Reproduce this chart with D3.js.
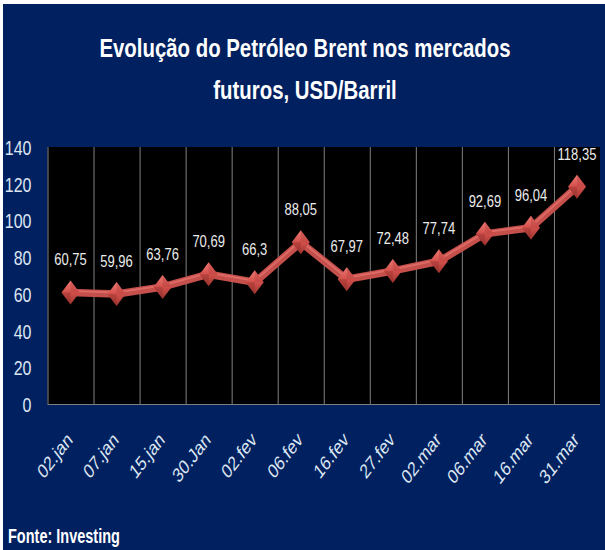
<!DOCTYPE html>
<html>
<head>
<meta charset="utf-8">
<script src="https://cdn.jsdelivr.net/npm/d3@7"></script>
<style>
  html, body { margin: 0; padding: 0; background: #fff; }
  svg { display: block; }
  text { font-family: 'Liberation Sans', Arial, sans-serif; }
</style>
</head>
<body>
<div id="chart"></div>
<script>
const dates = ['02.jan', '07.jan', '15.jan', '30.Jan', '02.fev', '06.fev', '16.fev', '27.fev', '02.mar', '06.mar', '16.mar', '31.mar']
const prices = [60.75, 59.96, 63.76, 70.69, 66.3, 88.05, 67.97, 72.48, 77.74, 92.69, 96.04, 118.35]
const yTicks = [0, 20, 40, 60, 80, 100, 120, 140]
const titleLines = ['Evolução do Petróleo Brent nos mercados', 'futuros, USD/Barril']
const source = 'Fonte: Investing'

const width = 605
const height = 550
const plot = { left: 47.5, right: 600, top: 147, bottom: 404 }
const stretch = 1.3 // the reference text looks vertically stretched

const data = dates.map((d, i) => ({ date: d, value: prices[i] }))
const fmt = (v) => String(v).replace('.', ',')

const svg = d3.select('#chart').append('svg').attr('width', width).attr('height', height)

const defs = svg.append('defs')
const grad = defs.append('linearGradient').attr('id', 'gem').attr('x1', 0).attr('y1', 0).attr('x2', 0).attr('y2', 1)
grad.append('stop').attr('offset', '0%').attr('stop-color', '#f07a74')
grad.append('stop').attr('offset', '50%').attr('stop-color', '#d2504b')
grad.append('stop').attr('offset', '100%').attr('stop-color', '#9e3430')

// background
svg.append('rect').attr('x', 3).attr('y', 4).attr('width', width - 3).attr('height', height - 4).attr('fill', '#002060')

// title
svg.append('g').selectAll('text').data(titleLines).join('text')
  .attr('transform', (d, i) => `translate(305,${i === 0 ? 57 : 99}) scale(1,${stretch})`)
  .attr('text-anchor', 'middle')
  .attr('fill', '#fff')
  .attr('font-weight', 'bold')
  .attr('font-size', 20.4)
  .text((d) => d)

const x = d3.scaleBand().domain(dates).range([plot.left, plot.right]).paddingInner(0).paddingOuter(0)
const y = d3.scaleLinear().domain([0, 140]).range([plot.bottom, plot.top])

// plot area
svg.append('rect')
  .attr('x', plot.left).attr('y', plot.top)
  .attr('width', plot.right - plot.left).attr('height', plot.bottom - plot.top)
  .attr('fill', '#000')

// vertical gridlines at category boundaries
svg.append('g').selectAll('line').data(dates).join('line')
  .attr('x1', (d) => x(d) + 0.5).attr('x2', (d) => x(d) + 0.5)
  .attr('y1', plot.top).attr('y2', plot.bottom)
  .attr('stroke', '#808080').attr('stroke-width', 1)

// y axis
const yAxisG = svg.append('g').attr('transform', `translate(${plot.left - 16},0)`)
  .call(d3.axisLeft(y).tickValues(yTicks).tickSize(0).tickPadding(0))
yAxisG.select('.domain').remove()
yAxisG.selectAll('text')
  .attr('fill', '#dce6f2')
  .attr('font-size', 16)
  .attr('font-family', "'Liberation Sans', Arial, sans-serif")
  .attr('x', 0)
  .attr('dy', '0.36em')
  .attr('transform', `scale(1,${stretch})`)

// x axis
const xAxisG = svg.append('g').attr('transform', `translate(0,${plot.bottom})`)
  .call(d3.axisBottom(x).tickSize(0).tickPadding(0))
xAxisG.select('.domain').attr('stroke', '#808080').attr('d', `M${plot.left},0.5H${plot.right}`)
xAxisG.selectAll('text')
  .attr('fill', '#dce6f2')
  .attr('font-size', 15.5)
  .attr('font-family', "'Liberation Sans', Arial, sans-serif")
  .attr('text-anchor', 'end')
  .attr('y', 0)
  .attr('dy', 0)
  .attr('transform', `translate(3,37) scale(1,${stretch}) rotate(-45)`)

// line
const line = d3.line()
  .x((d) => x(d.date) + x.bandwidth() / 2)
  .y((d) => y(d.value))

svg.append('path').datum(data)
  .attr('fill', 'none')
  .attr('stroke', '#c44f4b')
  .attr('stroke-width', 7.5)
  .attr('stroke-linejoin', 'round')
  .attr('d', line)

svg.append('path').datum(data)
  .attr('fill', 'none')
  .attr('stroke', '#dd6a65')
  .attr('stroke-width', 2)
  .attr('stroke-linejoin', 'round')
  .attr('transform', 'translate(0,-1.5)')
  .attr('d', line)

// diamond markers
const markers = svg.append('g').selectAll('g').data(data).join('g')
  .attr('transform', (d) => `translate(${x(d.date) + x.bandwidth() / 2},${y(d.value)})`)
markers.append('path')
  .attr('d', 'M0,-12L9,0L0,12L-9,0Z')
  .attr('fill', 'url(#gem)')
markers.append('path')
  .attr('d', 'M0,-12L9,0L0,0Z')
  .attr('fill', '#b8413d').attr('opacity', 0.45)
markers.append('path')
  .attr('d', 'M0,12L-9,0L0,0Z')
  .attr('fill', '#8a2a27').attr('opacity', 0.35)

// value labels
svg.append('g').selectAll('text').data(data).join('text')
  .attr('transform', (d) => `translate(${x(d.date) + x.bandwidth() / 2},${y(d.value) - 27}) scale(1,${stretch})`)
  .attr('text-anchor', 'middle')
  .attr('fill', '#ececec')
  .attr('font-size', 13)
  .text((d) => fmt(d.value))

// source
svg.append('text')
  .attr('transform', `translate(8,543) scale(1,1.35)`)
  .attr('fill', '#fff')
  .attr('font-weight', 'bold')
  .attr('font-size', 14.5)
  .text(source)
</script>
</body>
</html>
